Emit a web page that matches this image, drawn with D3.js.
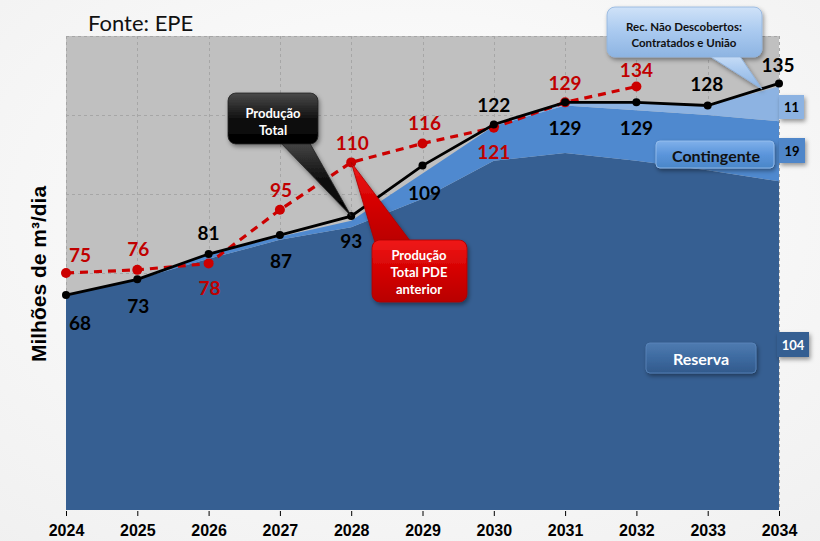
<!DOCTYPE html>
<html>
<head>
<meta charset="utf-8">
<script src="https://cdn.jsdelivr.net/npm/d3@7"></script>
<style>
  html, body { margin: 0; padding: 0; background: #fbfbfb; }
  svg { display: block; }
</style>
</head>
<body>
<svg id="chart" width="820" height="541"></svg>
<script>
// Anos do horizonte de projeção
const anos = [2024, 2025, 2026, 2027, 2028, 2029, 2030, 2031, 2032, 2033, 2034];
// Produção total (milhões de m³/dia)
const producaoTotal = [68, 73, 81, 87, 93, 109, 122, 129, 129, 128, 135];
// Produção total do PDE anterior (até 2032)
const anosPdeAnterior = [2024, 2025, 2026, 2027, 2028, 2029, 2030, 2031, 2032];
const producaoPdeAnterior = [75, 76, 78, 95, 110, 116, 121, 129, 134];
// Parcelas empilhadas por tipo de recurso
const reserva = [68, 73, 79.5, 85.5, 89.5, 98.5, 110.5, 113, 110.5, 107.5, 104];
const contingente = [0, 0, 1.5, 1, 2, 8, 11, 15, 16, 17.5, 19];
const recNaoDescobertos = [0, 0, 0, 0, 0, 0, 0, 1, 2.5, 3, 11];
// Marcas do eixo vertical (grade)
const gradeY = [25, 50, 75, 100, 125, 150];

// Posição dos rótulos: deslocamento relativo ao ponto
const rotTotalDy = [27, 26, -22, 25, 24, 27, -20, 25, 25, -22, -19];
const rotTotalDx = [14, 1, 0, 1, 0, 2, 0, 0, 0, -1, -1];
const rotPdeDy = [-19, -21, 24, -20, -20, -21, 24, -20, -17];
const rotPdeDx = [14, 1, 1, 1, 1, 2, 0, 0, 0];

const svg = d3.select("#chart");
const W = 820, H = 541;
const x = d3.scaleLinear().domain([2024, 2034]).range([66, 779]);
const y = d3.scaleLinear().domain([0, 150]).range([510, 36]);

const defs = svg.append("defs");

// page background
const bg = defs.append("radialGradient").attr("id", "pageBg").attr("cx", "50%").attr("cy", "40%").attr("r", "80%");
bg.append("stop").attr("offset", "0%").attr("stop-color", "#ffffff");
bg.append("stop").attr("offset", "100%").attr("stop-color", "#f0f0f0");
svg.append("rect").attr("width", W).attr("height", H).attr("fill", "url(#pageBg)");

// shadow filter
const sh = defs.append("filter").attr("id", "shadow").attr("x", "-20%").attr("y", "-20%").attr("width", "150%").attr("height", "160%");
sh.append("feDropShadow").attr("dx", 1.5).attr("dy", 2.5).attr("stdDeviation", 2).attr("flood-color", "#000").attr("flood-opacity", 0.4);

function vGrad(id, c1, c2, c3) {
  const g = defs.append("linearGradient").attr("id", id).attr("x1", 0).attr("y1", 0).attr("x2", 0).attr("y2", 1);
  g.append("stop").attr("offset", "0%").attr("stop-color", c1);
  g.append("stop").attr("offset", "50%").attr("stop-color", c2);
  g.append("stop").attr("offset", "100%").attr("stop-color", c3);
}
vGrad("gBlack", "#4a4a4a", "#111111", "#000000");
vGrad("gRed", "#f01a1a", "#d40000", "#b80000");
vGrad("gLight", "#cfe2f8", "#a9c9ef", "#8db4e2");
vGrad("gCont", "#7fb0ea", "#5b95db", "#4a86c8");
vGrad("gRes", "#4f7bb0", "#3d6aa0", "#325a8c");

// plot background
svg.append("rect").attr("x", x(2024)).attr("y", y(150))
  .attr("width", x(2034) - x(2024)).attr("height", y(0) - y(150))
  .attr("fill", "#c0c0c0");

// grid
const grid = svg.append("g").attr("stroke", "#a6a6a6").attr("stroke-width", 1).attr("stroke-dasharray", "3,3");
grid.selectAll("line.h").data(gradeY).join("line")
  .attr("x1", x(2024)).attr("x2", x(2034))
  .attr("y1", d => y(d) + 0.5).attr("y2", d => y(d) + 0.5);
grid.selectAll("line.v").data(anos).join("line")
  .attr("x1", d => Math.round(x(d)) + 0.5).attr("x2", d => Math.round(x(d)) + 0.5)
  .attr("y1", y(150)).attr("y2", y(0));

// stacked areas
const tabela = anos.map((a, i) => ({ ano: a, reserva: reserva[i], contingente: contingente[i], rec: recNaoDescobertos[i] }));
const stack = d3.stack().keys(["reserva", "contingente", "rec"]);
const camadas = stack(tabela);
const cores = { reserva: "#365f92", contingente: "#4f89cf", rec: "#8db3e2" };
const area = d3.area().x(d => x(d.data.ano)).y0(d => y(d[0])).y1(d => y(d[1]));
svg.append("g").selectAll("path").data(camadas).join("path")
  .attr("d", area).attr("fill", d => cores[d.key]);

// lines
const linhaTotal = d3.line().x((d, i) => x(anos[i])).y(d => y(d));
const linhaPde = d3.line().x((d, i) => x(anosPdeAnterior[i])).y(d => y(d));

svg.append("path").datum(producaoPdeAnterior).attr("d", linhaPde)
  .attr("fill", "none").attr("stroke", "#cc0000").attr("stroke-width", 3.2)
  .attr("stroke-dasharray", "8,6");
svg.append("g").selectAll("circle").data(producaoPdeAnterior).join("circle")
  .attr("cx", (d, i) => x(anosPdeAnterior[i])).attr("cy", d => y(d)).attr("r", 5)
  .attr("fill", "#cc0000");

svg.append("path").datum(producaoTotal).attr("d", linhaTotal)
  .attr("fill", "none").attr("stroke", "#000").attr("stroke-width", 2.8);
svg.append("g").selectAll("circle").data(producaoTotal).join("circle")
  .attr("cx", (d, i) => x(anos[i])).attr("cy", d => y(d)).attr("r", 4)
  .attr("fill", "#000");

// value labels
const fontLbl = "Lato, 'Open Sans', sans-serif";
svg.append("g").selectAll("text").data(producaoPdeAnterior).join("text")
  .attr("x", (d, i) => x(anosPdeAnterior[i]) + rotPdeDx[i])
  .attr("y", (d, i) => y(d) + rotPdeDy[i])
  .attr("text-anchor", "middle").attr("dominant-baseline", "central")
  .attr("font-family", fontLbl).attr("font-weight", 700).attr("font-size", 19)
  .attr("fill", "#c00000").text(d => d);
svg.append("g").selectAll("text").data(producaoTotal).join("text")
  .attr("x", (d, i) => x(anos[i]) + rotTotalDx[i])
  .attr("y", (d, i) => y(d) + rotTotalDy[i])
  .attr("text-anchor", "middle").attr("dominant-baseline", "central")
  .attr("font-family", fontLbl).attr("font-weight", 700).attr("font-size", 19)
  .attr("fill", "#000").text(d => d);

// x axis
const eixoX = d3.axisBottom(x).tickValues(anos).tickFormat(d3.format("d")).tickSize(5).tickPadding(9);
const gx = svg.append("g").attr("transform", `translate(0,${y(0) + 1})`).call(eixoX);
gx.select(".domain").remove();
gx.selectAll(".tick line").attr("stroke", "#000");
gx.selectAll(".tick text")
  .attr("font-family", "'Liberation Sans Narrow', 'Arial Narrow', 'Liberation Sans', sans-serif")
  .attr("font-weight", 700).attr("font-size", 16).attr("fill", "#000");

// y axis title
svg.append("text")
  .attr("transform", `translate(46,274) rotate(-90)`)
  .attr("text-anchor", "middle")
  .attr("font-family", "'Liberation Sans', Arial, sans-serif").attr("font-weight", 700).attr("font-size", 21)
  .attr("fill", "#000").text("Milhões de m³/dia");

// source
svg.append("text").attr("x", 88).attr("y", 31)
  .attr("font-family", fontLbl).attr("font-size", 22).attr("fill", "#111").text("Fonte: EPE");

// callout helper: rounded box with a wedge tail
function callout(bx, by, bw, bh, tail, fill, stroke) {
  const g = svg.append("g").attr("filter", "url(#shadow)");
  g.append("path")
    .attr("d", `M${tail[0][0]},${tail[0][1]}L${tail[1][0]},${tail[1][1]}L${tail[2][0]},${tail[2][1]}Z`)
    .attr("fill", fill).attr("stroke", stroke || "none").attr("stroke-width", 0.8);
  g.append("rect").attr("x", bx).attr("y", by).attr("width", bw).attr("height", bh)
    .attr("rx", 8).attr("fill", fill).attr("stroke", stroke || "none").attr("stroke-width", 0.8);
  return g;
}
function linhasTexto(g, cx, ys, txts, size, color) {
  txts.forEach((t, i) => {
    g.append("text").attr("x", cx).attr("y", ys[i]).attr("text-anchor", "middle")
      .attr("dominant-baseline", "central")
      .attr("font-family", fontLbl).attr("font-weight", 700).attr("font-size", size)
      .attr("fill", color).text(t);
  });
}

// "Produção Total" callout pointing to 2028 total
const p28 = [x(2028), y(producaoTotal[4])];
callout(228, 93, 90, 51, [[278, 140], [308, 140], p28], "url(#gBlack)", "#222");
linhasTexto(svg, 273, [113, 130], ["Produção", "Total"], 13, "#fff");

// "Produção Total PDE anterior" callout pointing to 2028 previous plan
const q28 = [x(2028), y(producaoPdeAnterior[4])];
callout(372, 240, 95, 62, [[376, 246], [414, 246], q28], "url(#gRed)", "#a00");
linhasTexto(svg, 419, [255, 272, 289], ["Produção", "Total PDE", "anterior"], 13, "#fff");

// "Rec. Não Descobertos" callout
callout(607, 7, 155, 50, [[703, 52], [737, 52], [762, 89]], "url(#gLight)", "#8fb3dd");
linhasTexto(svg, 684, [26, 42], ["Rec. Não Descobertos:", "Contratados e União"], 11.5, "#111");

// legend pills
const pCont = svg.append("g").attr("filter", "url(#shadow)");
pCont.append("rect").attr("x", 656).attr("y", 141).attr("width", 118).attr("height", 27).attr("rx", 4)
  .attr("fill", "url(#gCont)").attr("stroke", "#9cc2ee").attr("stroke-width", 0.8);
linhasTexto(svg, 716, [155], ["Contingente"], 16, "#111");

const pRes = svg.append("g").attr("filter", "url(#shadow)");
pRes.append("rect").attr("x", 646).attr("y", 343).attr("width", 110).attr("height", 30).attr("rx", 4)
  .attr("fill", "url(#gRes)").attr("stroke", "#5b86bb").attr("stroke-width", 0.8);
linhasTexto(svg, 701, [358], ["Reserva"], 16, "#fff");

// value boxes for 2034 layers
const ultimo = anos.length - 1;
const caixas = [
  { v: recNaoDescobertos[ultimo], fill: "#8db3e2", cor: "#000", x: 779, y: 95, w: 25, h: 24 },
  { v: contingente[ultimo], fill: "#4f86c9", cor: "#000", x: 779, y: 138, w: 26, h: 25 },
  { v: reserva[ultimo], fill: "#365f92", cor: "#fff", x: 777, y: 332, w: 32, h: 25 }
];
const gc = svg.append("g");
caixas.forEach(c => {
  gc.append("rect").attr("x", c.x).attr("y", c.y).attr("width", c.w).attr("height", c.h)
    .attr("fill", c.fill).attr("filter", "url(#shadow)");
  gc.append("text").attr("x", c.x + c.w / 2).attr("y", c.y + c.h / 2).attr("text-anchor", "middle")
    .attr("dominant-baseline", "central").attr("font-family", fontLbl).attr("font-weight", 700)
    .attr("font-size", 13).attr("fill", c.cor).text(c.v);
});
</script>
</body>
</html>
